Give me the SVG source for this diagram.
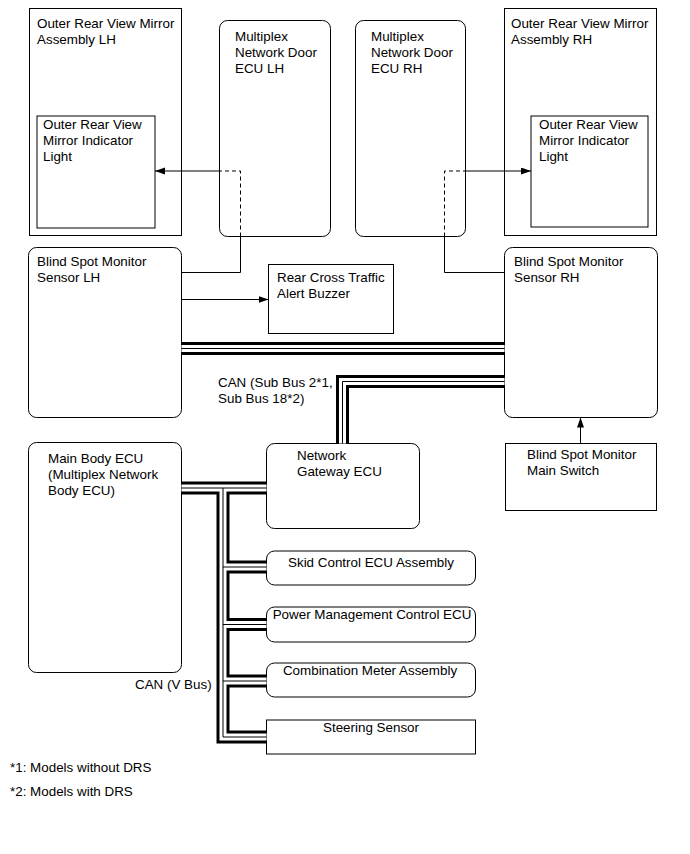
<svg xmlns="http://www.w3.org/2000/svg" xmlns:xlink="http://www.w3.org/1999/xlink" width="690" height="854" viewBox="0 0 690 854">
<style>
.box{fill:#fff;stroke:#000;stroke-width:1}
.t{font-family:"Liberation Sans",Arial,sans-serif;font-size:13.4px;fill:#000}
.c{text-anchor:middle}
.ln{fill:none;stroke:#000;stroke-width:1}
.dash{fill:none;stroke:#000;stroke-width:1;stroke-dasharray:4 3}
.b1{fill:none;stroke:#000;stroke-width:13;stroke-linejoin:miter}
.b2{fill:none;stroke:#fff;stroke-width:7;stroke-linejoin:miter}
.b3{fill:none;stroke:#000;stroke-width:1}
</style>
<defs>
<marker id="arr" markerUnits="userSpaceOnUse" markerWidth="11" markerHeight="8" refX="10" refY="3.5" orient="auto">
<path d="M0,0 L10,3.5 L0,7 z" fill="#000"/>
</marker>
<path id="busA" d="M181.5,348.5 H504.5"/>
<path id="busB" d="M504.5,381.5 H342.5 V443.5"/>
<path id="busV" d="M181.5,488 H266.5 M223,488 V737 H266.5 M223,567 H266.5 M223,624.5 H266.5 M223,681 H266.5"/>
</defs>
<rect width="690" height="854" fill="#fff"/>

<g id="mirrorLH">
<rect class="box" x="29.5" y="8.5" width="152" height="227"/>
<text class="t" x="37" y="27.5">Outer Rear View Mirror</text>
<text class="t" x="37" y="43.5">Assembly LH</text>
</g>
<g id="lightLH">
<rect class="box" x="37" y="116" width="118" height="112"/>
<text class="t" x="43" y="129">Outer Rear View</text>
<text class="t" x="43" y="145">Mirror Indicator</text>
<text class="t" x="43" y="161">Light</text>
</g>
<g id="doorLH">
<rect class="box" x="219.5" y="20.5" width="111" height="216" rx="8"/>
<text class="t" x="235" y="41">Multiplex</text>
<text class="t" x="235" y="57">Network Door</text>
<text class="t" x="235" y="73">ECU LH</text>
</g>
<g id="doorRH">
<rect class="box" x="355.5" y="20.5" width="110" height="216" rx="8"/>
<text class="t" x="371" y="41">Multiplex</text>
<text class="t" x="371" y="57">Network Door</text>
<text class="t" x="371" y="73">ECU RH</text>
</g>
<g id="mirrorRH">
<rect class="box" x="504.5" y="8.5" width="152" height="227"/>
<text class="t" x="511" y="27.5">Outer Rear View Mirror</text>
<text class="t" x="511" y="43.5">Assembly RH</text>
</g>
<g id="lightRH">
<rect class="box" x="531" y="116" width="117" height="111"/>
<text class="t" x="539" y="129">Outer Rear View</text>
<text class="t" x="539" y="145">Mirror Indicator</text>
<text class="t" x="539" y="161">Light</text>
</g>
<g id="bsmLH">
<rect class="box" x="28.5" y="247.5" width="153" height="170" rx="8"/>
<text class="t" x="37" y="266">Blind Spot Monitor</text>
<text class="t" x="37" y="282">Sensor LH</text>
</g>
<g id="buzzer">
<rect class="box" x="268.5" y="264.5" width="125" height="69"/>
<text class="t" x="277" y="282">Rear Cross Traffic</text>
<text class="t" x="277" y="298">Alert Buzzer</text>
</g>
<g id="bsmRH">
<rect class="box" x="504.5" y="247.5" width="153" height="170" rx="8"/>
<text class="t" x="514" y="266">Blind Spot Monitor</text>
<text class="t" x="514" y="282">Sensor RH</text>
</g>
<g id="mainSwitch">
<rect class="box" x="505.5" y="443.5" width="151" height="67"/>
<text class="t" x="527" y="459">Blind Spot Monitor</text>
<text class="t" x="527" y="475">Main Switch</text>
</g>
<g id="mainBody">
<rect class="box" x="28.5" y="442.5" width="153" height="230" rx="8"/>
<text class="t" x="48" y="463">Main Body ECU</text>
<text class="t" x="48" y="479">(Multiplex Network</text>
<text class="t" x="48" y="495">Body ECU)</text>
</g>
<g id="gateway">
<rect class="box" x="266.5" y="443.5" width="153" height="85" rx="8"/>
<text class="t" x="297" y="460">Network</text>
<text class="t" x="297" y="476">Gateway ECU</text>
</g>
<g id="skid">
<rect class="box" x="266.5" y="551" width="209" height="34" rx="8"/>
<text class="t c" x="371" y="567">Skid Control ECU Assembly</text>
</g>
<g id="power">
<rect class="box" x="266.5" y="607" width="209" height="35" rx="8"/>
<text class="t c" x="372" y="619">Power Management Control ECU</text>
</g>
<g id="combo">
<rect class="box" x="266.5" y="663" width="209" height="34" rx="8"/>
<text class="t c" x="370" y="675">Combination Meter Assembly</text>
</g>
<g id="steering">
<rect class="box" x="266.5" y="720" width="209" height="34"/>
<text class="t c" x="371" y="732">Steering Sensor</text>
</g>

<g id="connectors">
<path class="ln" d="M182,272.5 H240.5 V236.5"/>
<path class="dash" d="M240.5,236.5 V171 H219.5"/>
<path class="ln" d="M219.5,171 H155" marker-end="url(#arr)"/>
<path class="ln" d="M504.5,272.5 H444.5 V236.5"/>
<path class="dash" d="M444.5,236.5 V171 H466"/>
<path class="ln" d="M466,171 H531" marker-end="url(#arr)"/>
<path class="ln" d="M182,299.5 H268.5" marker-end="url(#arr)"/>
<path class="ln" d="M580.5,443.5 V417.5" marker-end="url(#arr)"/>
<use class="b1" xlink:href="#busA"/>
<use class="b1" xlink:href="#busB"/>
<use class="b1" xlink:href="#busV"/>
<use class="b2" xlink:href="#busA"/>
<use class="b2" xlink:href="#busB"/>
<use class="b2" xlink:href="#busV"/>
<use class="b3" xlink:href="#busA"/>
<use class="b3" xlink:href="#busB"/>
<use class="b3" xlink:href="#busV"/>
</g>

<text class="t" x="218" y="386.5">CAN (Sub Bus 2*1,</text>
<text class="t" x="218" y="402.5">Sub Bus 18*2)</text>
<text class="t" x="135" y="689">CAN (V Bus)</text>
<text class="t" x="10" y="772">*1: Models without DRS</text>
<text class="t" x="10" y="796">*2: Models with DRS</text>
</svg>
